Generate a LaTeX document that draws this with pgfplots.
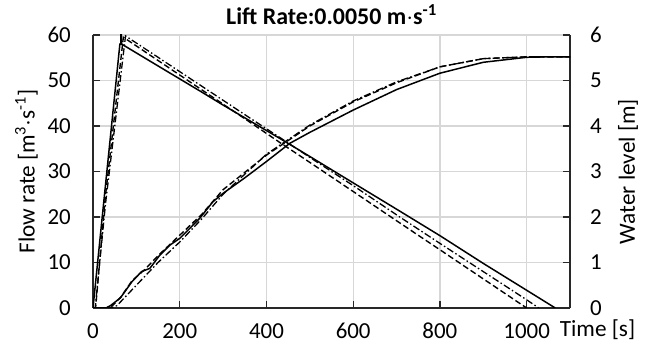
\documentclass[border=0pt]{standalone}
\usepackage{pgfplots}
\pgfplotsset{compat=1.18}
\usepackage{fontspec}
\setmainfont{Carlito}
\definecolor{gridc}{RGB}{215,215,215}
\definecolor{axc}{RGB}{40,40,40}
\begin{document}
\begin{tikzpicture}
\pgfplotsset{
  every axis/.append style={
    scale only axis, width=477bp, height=273bp,
    xmin=0, xmax=1100,
    /pgf/number format/assume math mode=true,
    /pgf/number format/1000 sep={},
    tick label style={font=\fontsize{23}{25}\selectfont, inner sep=0pt},
    label style={font=\fontsize{23.3}{26}\selectfont, inner sep=0pt},
    axis line style={axc, line width=1.3pt},
    major tick length=7bp,
    every tick/.style={axc, line width=1.3pt},
  }
}
\begin{axis}[
  name=ax,
  axis x line*=bottom, axis y line*=left,
  ymin=0, ymax=60, ytick={0,10,...,60},
  xtick={0,200,...,1000},
  grid=major, major grid style={gridc, line width=1.2pt},
  tick align=inside,
  xtick pos=bottom, ytick pos=left,
  yticklabel style={anchor=east, xshift=-22bp},
  xticklabel style={anchor=north, yshift=-15bp},
  ylabel={Flow rate [m\textsuperscript{3}$\cdot$s\textsuperscript{-1}]},
  ylabel style={at={([xshift=-55bp]rel axis cs:0,0.5)}, anchor=south, rotate=0},
  xlabel={Time [s]},
  xlabel style={at={([xshift=27.5bp,yshift=-29bp]rel axis cs:1,0)}, anchor=base},
  title={Lift Rate:0.0050 m$\cdot$s\textsuperscript{-1}},
  title style={font=\fontsize{24}{26}\selectfont\bfseries, inner sep=0pt, at={([yshift=5bp]rel axis cs:0.5,1)}, anchor=base},
  clip=true,
]
% flow rate: solid
\addplot[black, line width=1.5pt] coordinates {
(0,0) (25,23.5) (62,58) (64,58) (65,62) (66,58) (150,53.2) (250,47.5) (300,44.6) (432,37.2) (500,33.3) (600,27.5) (709,21.2) (800,15.9) (900,9.8) (1000,3.9) (1066,0)
};
% flow rate: dashed
\addplot[black, line width=1.4pt, dash pattern=on 6bp off 3bp] coordinates {
(0,0) (6,0) (28,24) (70,59.5) (150,54.4) (250,48.0) (350,41.6) (432,36.3) (500,32.0) (600,25.6) (709,18.6) (800,12.8) (900,6.4) (1000,0)
};
% flow rate: dash-dot
\addplot[black, line width=1.3pt, dash pattern=on 7bp off 2.5bp on 1.5bp off 2.5bp] coordinates {
(0,0) (5,0) (29,23) (75,59.8) (150,55.1) (250,48.8) (350,42.5) (432,37.4) (500,33.1) (600,26.9) (709,19.9) (800,14.2) (900,8.0) (1000,1.8) (1028,0)
};
\end{axis}
\begin{axis}[
  axis x line=none, axis y line*=right,
  ymin=0, ymax=6, ytick={0,1,...,6},
  tick align=inside, ytick pos=right,
  yticklabel style={anchor=west, xshift=20bp},
  ylabel={Water level [m]},
  ylabel style={at={([xshift=48bp]rel axis cs:1,0.5)}, anchor=north, rotate=0},
  clip=true,
]
% water level: solid
\addplot[black, line width=1.5pt] coordinates {
(0,0) (30,0) (40,0.05) (63,0.22) (90,0.58) (112,0.80) (131,0.87) (154,1.16) (177,1.38) (200,1.53) (223,1.75) (246,1.97) (277,2.34) (300,2.52) (350,2.86) (400,3.22) (454,3.62) (500,3.86) (600,4.35) (700,4.80) (800,5.16) (900,5.40) (1000,5.51) (1050,5.52) (1100,5.52)
};
% water level: dashed
\addplot[black, line width=1.4pt, dash pattern=on 6bp off 3bp] coordinates {
(0,0) (30,0) (45,0.05) (65,0.25) (90,0.60) (120,0.85) (150,1.15) (200,1.60) (250,2.05) (300,2.60) (400,3.36) (500,4.00) (600,4.53) (700,4.95) (800,5.30) (900,5.48) (1000,5.52) (1100,5.52)
};
% water level: dash-dot
\addplot[black, line width=1.3pt, dash pattern=on 7bp off 2.5bp on 1.5bp off 2.5bp] coordinates {
(0,0) (40,0) (55,0.05) (80,0.30) (110,0.60) (150,1.00) (200,1.45) (250,1.95) (300,2.50) (400,3.38) (500,4.02) (600,4.55) (700,4.97) (800,5.30) (900,5.48) (1000,5.52) (1100,5.52)
};
\end{axis}
\pgfresetboundingbox
\path ([shift={(-93bp,-41bp)}]ax.south west) rectangle ([shift={(80bp,35bp)}]ax.north east);
\end{tikzpicture}
\end{document}
